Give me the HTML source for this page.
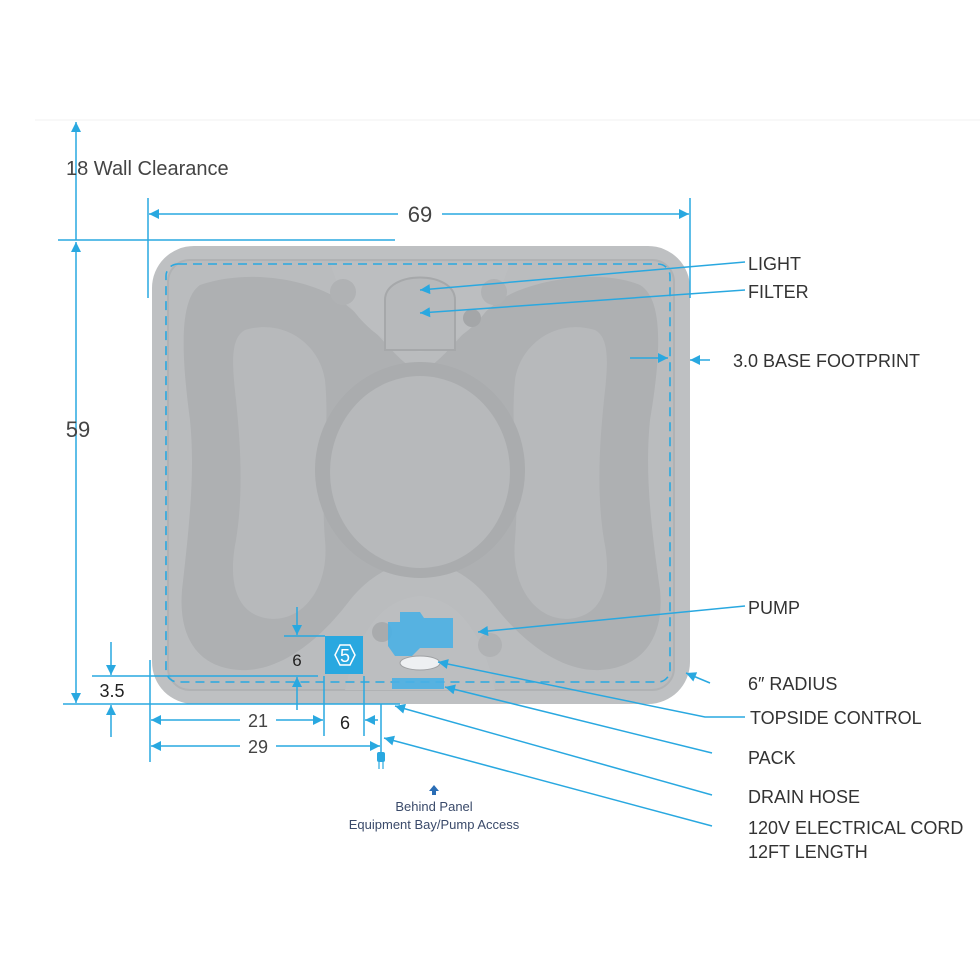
<!DOCTYPE html>
<html><head><meta charset="utf-8"><style>
html,body{margin:0;padding:0;background:#fff;}
svg{display:block;}
text{font-family:"Liberation Sans",sans-serif;}
</style></head><body>
<svg width="980" height="980" viewBox="0 0 980 980" xmlns="http://www.w3.org/2000/svg">
<defs>
<marker id="b" viewBox="0 0 10 10" refX="10" refY="5" markerWidth="16" markerHeight="10" orient="auto-start-reverse" markerUnits="userSpaceOnUse">
<path d="M0,0 L10,5 L0,10 z" fill="#29a8e0"/></marker>
</defs>
<line x1="35" y1="120" x2="980" y2="120" stroke="#f0f0f0" stroke-width="1"/>

<rect x="152" y="246" width="538" height="458" rx="42" fill="#bec0c2"/>
<rect x="168" y="260" width="506" height="430" rx="22" fill="#babcbe" stroke="#b0b2b4" stroke-width="2"/>
<path d="M200,285 C250,268 310,280 340,300 C380,330 400,368 420,370 C440,368 460,330 500,300 C530,280 600,268 640,285 C665,300 660,360 650,420 C645,470 650,520 660,590 C665,640 640,668 600,670 C560,672 520,640 490,600 C470,575 445,562 420,562 C395,562 370,575 350,600 C320,640 280,672 240,670 C200,668 178,640 182,590 C190,520 195,470 190,420 C182,360 178,300 200,285 Z" fill="#aeb0b2"/>
<path d="M245,330 C285,318 320,345 325,380 C330,430 320,480 325,540 C330,590 300,625 265,618 C235,612 228,580 236,540 C244,490 240,440 236,400 C232,365 230,338 245,330 Z" fill="#b7b9bb"/>
<path d="M595,330 C555,318 520,345 515,380 C510,430 520,480 515,540 C510,590 540,625 575,618 C605,612 612,580 604,540 C596,490 600,440 604,400 C608,365 610,338 595,330 Z" fill="#b7b9bb"/>
<ellipse cx="420" cy="470" rx="105" ry="108" fill="#aaacae"/>
<ellipse cx="420" cy="472" rx="90" ry="96" fill="#b7b9bb"/>
<path d="M330,262 L510,262 C500,300 470,345 420,352 C370,345 340,300 330,262 Z" fill="#bcbec0"/>
<circle cx="343" cy="292" r="13" fill="#b0b2b4"/>
<circle cx="494" cy="292" r="13" fill="#b0b2b4"/>
<circle cx="472" cy="318" r="9" fill="#a4a6a8"/>
<path d="M385,350 L385,300 C385,270 455,270 455,300 L455,350 Z" fill="#b7b9bb" stroke="#a6a8aa" stroke-width="2"/>
<path d="M345,690 C360,620 390,598 420,596 C450,598 480,620 495,690 Z" fill="#bcbec0"/>
<circle cx="382" cy="632" r="10" fill="#a9abad"/>
<circle cx="490" cy="645" r="12" fill="#b0b2b4"/>
<rect x="166" y="264" width="504" height="418" rx="12" fill="none" stroke="#29a8e0" stroke-width="1.6" stroke-dasharray="9,6"/>
<path d="M400,612 L420,612 L424,618 L453,618 L453,648 L420,648 L412,656 L395,656 L388,646 L388,622 L400,622 Z" fill="#4ab0e4" opacity="0.9"/>
<ellipse cx="420" cy="663" rx="20" ry="7" fill="#eef0f2" stroke="#9fa1a3"/>
<rect x="392" y="678" width="52" height="11" fill="#4ab0e4" opacity="0.9"/>
<rect x="325" y="636" width="38" height="38" fill="#29a8e0"/>
<polygon points="335,655 340,645 350,645 355,655 350,665 340,665" fill="none" stroke="#fff" stroke-width="1.5"/>
<text x="345" y="662" font-size="18" fill="#fff" text-anchor="middle">5</text>

<g stroke="#29a8e0" stroke-width="1.5" fill="none">
<line x1="76" y1="122" x2="76" y2="240" marker-start="url(#b)"/>
<line x1="76" y1="242" x2="76" y2="703" marker-start="url(#b)" marker-end="url(#b)"/>
<line x1="58" y1="240" x2="395" y2="240"/>
<line x1="63" y1="704" x2="400" y2="704"/>
<line x1="148" y1="198" x2="148" y2="298"/>
<line x1="690" y1="198" x2="690" y2="298"/>
<line x1="149" y1="214" x2="398" y2="214" marker-start="url(#b)"/>
<line x1="442" y1="214" x2="689" y2="214" marker-end="url(#b)"/>
<line x1="745" y1="262" x2="420" y2="290" marker-end="url(#b)"/>
<line x1="745" y1="290" x2="420" y2="313" marker-end="url(#b)"/>
<line x1="710" y1="360" x2="690" y2="360" marker-end="url(#b)"/>
<line x1="630" y1="358" x2="668" y2="358" marker-end="url(#b)"/>
<line x1="745" y1="606" x2="478" y2="632" marker-end="url(#b)"/>
<line x1="710" y1="683" x2="686" y2="673" marker-end="url(#b)"/>
<polyline points="745,717 705,717 438,662" marker-end="url(#b)"/>
<line x1="712" y1="753" x2="445" y2="687" marker-end="url(#b)"/>
<line x1="712" y1="795" x2="395" y2="706" marker-end="url(#b)"/>
<line x1="712" y1="826" x2="384" y2="738" marker-end="url(#b)"/>
<line x1="297" y1="607" x2="297" y2="635" marker-end="url(#b)"/>
<line x1="284" y1="636" x2="325" y2="636"/>
<line x1="297" y1="710" x2="297" y2="677" marker-end="url(#b)"/>
<line x1="111" y1="642" x2="111" y2="675" marker-end="url(#b)"/>
<line x1="92" y1="676" x2="318" y2="676"/>
<line x1="111" y1="737" x2="111" y2="705" marker-end="url(#b)"/>
<line x1="150" y1="660" x2="150" y2="762"/>
<line x1="324" y1="676" x2="324" y2="736"/>
<line x1="364" y1="676" x2="364" y2="736"/>
<line x1="381" y1="704" x2="381" y2="752"/>
<line x1="151" y1="720" x2="240" y2="720" marker-start="url(#b)"/>
<line x1="276" y1="720" x2="323" y2="720" marker-end="url(#b)"/>
<line x1="378" y1="720" x2="365" y2="720" marker-end="url(#b)"/>
<line x1="151" y1="746" x2="240" y2="746" marker-start="url(#b)"/>
<line x1="276" y1="746" x2="380" y2="746" marker-end="url(#b)"/>
</g>
<rect x="377" y="752" width="8" height="10" rx="2" fill="#29a8e0"/>
<line x1="379" y1="762" x2="379" y2="769" stroke="#29a8e0" stroke-width="1.2"/>
<line x1="383" y1="762" x2="383" y2="769" stroke="#29a8e0" stroke-width="1.2"/>
<path d="M434,785 L439,791 L436,791 L436,795 L432,795 L432,791 L429,791 Z" fill="#2a6db5"/>

<g fill="#444">
<text x="66" y="175" font-size="20">18 Wall Clearance</text>
<text x="420" y="222" font-size="22" text-anchor="middle">69</text>
<text x="78" y="437" font-size="22" text-anchor="middle">59</text>
<text x="297" y="666" font-size="17" text-anchor="middle" fill="#222">6</text>
<text x="112" y="697" font-size="18" text-anchor="middle" fill="#222">3.5</text>
<text x="258" y="727" font-size="18" text-anchor="middle">21</text>
<text x="345" y="729" font-size="18" text-anchor="middle" fill="#222">6</text>
<text x="258" y="753" font-size="18" text-anchor="middle">29</text>
</g>
<g fill="#333" font-size="18">
<text x="748" y="270">LIGHT</text>
<text x="748" y="298">FILTER</text>
<text x="733" y="367">3.0 BASE FOOTPRINT</text>
<text x="748" y="614">PUMP</text>
<text x="748" y="690">6″ RADIUS</text>
<text x="750" y="724">TOPSIDE CONTROL</text>
<text x="748" y="764">PACK</text>
<text x="748" y="803">DRAIN HOSE</text>
<text x="748" y="834">120V ELECTRICAL CORD</text>
<text x="748" y="858">12FT LENGTH</text>
</g>
<g fill="#3a4a6a" font-size="13" text-anchor="middle">
<text x="434" y="811">Behind Panel</text>
<text x="434" y="829">Equipment Bay/Pump Access</text>
</g>
</svg>
</body></html>
